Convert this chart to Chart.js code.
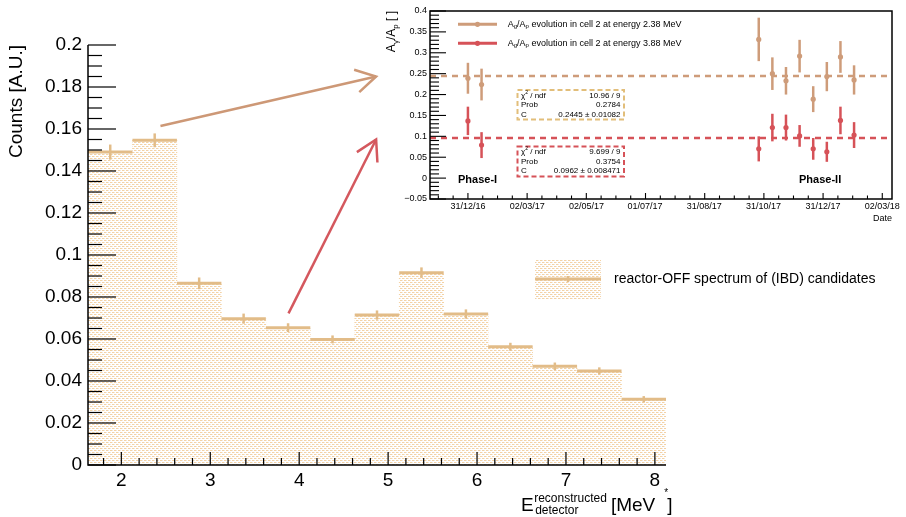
<!DOCTYPE html>
<html>
<head>
<meta charset="utf-8">
<script src="https://cdn.jsdelivr.net/npm/chart.js@4.4.1/dist/chart.umd.min.js"></script>
<style>
  body { margin: 0; background: #fff; }
  #wrap { position: relative; width: 906px; height: 517px; overflow: hidden; }
  #mainChart { position: absolute; left: 0; top: 0; }
  #insetChart { position: absolute; left: 380px; top: 0; }
</style>
</head>
<body>
<div id="wrap">
  <canvas id="mainChart" width="906" height="517"></canvas>
  <canvas id="insetChart" width="526" height="230"></canvas>
</div>
<script>
// ---- main histogram data ----
const binCenters = [1.875, 2.375, 2.875, 3.375, 3.875, 4.375, 4.875, 5.375, 5.875, 6.375, 6.875, 7.375, 7.875];
const counts = [0.149, 0.1546, 0.0865, 0.0697, 0.0654, 0.0598, 0.0714, 0.0916, 0.0719, 0.0563, 0.047, 0.0448, 0.0313];
const countErrors = [0.0036, 0.0033, 0.0028, 0.0024, 0.0021, 0.0019, 0.0022, 0.0025, 0.0022, 0.0019, 0.0018, 0.0017, 0.0015];
const energyTicks = [2, 3, 4, 5, 6, 7, 8];
const spectrumLabel = 'reactor-OFF spectrum of (IBD) candidates';

// ---- inset data (A_g/A_p vs date) ----
const measureDates = ['2016-12-31', '2017-01-14', '2017-10-26', '2017-11-09', '2017-11-23',
  '2017-12-07', '2017-12-21', '2018-01-04', '2018-01-18', '2018-02-01'];
const ratio238 = [0.239, 0.224, 0.332, 0.250, 0.233, 0.292, 0.189, 0.243, 0.290, 0.235];
const err238 = [0.037, 0.038, 0.052, 0.039, 0.033, 0.039, 0.031, 0.035, 0.038, 0.035];
const ratio388 = [0.137, 0.079, 0.070, 0.121, 0.121, 0.101, 0.070, 0.063, 0.138, 0.103];
const err388 = [0.034, 0.031, 0.030, 0.033, 0.031, 0.026, 0.026, 0.024, 0.033, 0.031];
const fit238 = 0.2445;
const fit388 = 0.0962;
const stats238 = [['χ² / ndf', '10.96 / 9'], ['Prob', '0.2784'], ['C', '0.2445 ± 0.01082']];
const stats388 = [['χ² / ndf', '9.699 / 9'], ['Prob', '0.3754'], ['C', '0.0962 ± 0.008471']];
const dateTickDates = ['2016-12-31', '2017-03-02', '2017-05-02', '2017-07-01', '2017-08-31', '2017-10-31', '2017-12-31', '2018-03-02'];
const dateTickLabels = ['31/12/16', '02/03/17', '02/05/17', '01/07/17', '31/08/17', '31/10/17', '31/12/17', '02/03/18'];
const dateRange = ['2016-11-22', '2018-03-12'];

const FONT = "'Liberation Sans', Arial, Helvetica, sans-serif";
const histColor = 'rgb(226,188,136)';
const tanColor = 'rgb(206,156,122)';
const redColor = 'rgb(214,82,88)';
const tanBox = 'rgb(226,190,122)';

Chart.defaults.font.family = FONT;
Chart.defaults.color = '#000';

// days since 31/12/16
const day0 = Date.UTC(2016, 11, 31);
function toDay(s) {
  const p = s.split('-').map(Number);
  return (Date.UTC(p[0], p[1] - 1, p[2]) - day0) / 86400000;
}

function makePattern(ctx) {
  const p = document.createElement('canvas');
  p.width = 4; p.height = 4;
  const c = p.getContext('2d');
  c.fillStyle = '#fff'; c.fillRect(0, 0, 4, 4);
  c.fillStyle = 'rgb(244,210,164)';
  c.fillRect(0, 0, 2, 1);
  c.fillRect(2, 2, 2, 1);
  c.fillStyle = 'rgb(240,232,224)';
  c.fillRect(0, 2, 1, 1);
  c.fillRect(2, 0, 1, 1);
  return ctx.createPattern(p, 'repeat');
}

function richWidth(ctx, parts) {
  let w = 0;
  parts.forEach(p => { ctx.font = (p.bold ? 'bold ' : '') + p.size + 'px ' + FONT; w += ctx.measureText(p.t).width; });
  return w;
}
function drawRich(ctx, parts, x, y) {
  let cx = x;
  parts.forEach(p => {
    ctx.font = (p.bold ? 'bold ' : '') + p.size + 'px ' + FONT;
    ctx.fillText(p.t, cx, y + (p.dy || 0));
    cx += ctx.measureText(p.t).width;
  });
}
function arrow(ctx, x1, y1, x2, y2, color) {
  const ang = Math.atan2(y1 - y2, x1 - x2);
  const L = 23, a = Math.PI / 6;
  ctx.save();
  ctx.strokeStyle = color; ctx.lineWidth = 2.5; ctx.lineCap = 'butt';
  ctx.beginPath(); ctx.moveTo(x1, y1); ctx.lineTo(x2, y2); ctx.stroke();
  ctx.beginPath();
  ctx.moveTo(x2 + L * Math.cos(ang + a), y2 + L * Math.sin(ang + a));
  ctx.lineTo(x2, y2);
  ctx.lineTo(x2 + L * Math.cos(ang - a), y2 + L * Math.sin(ang - a));
  ctx.stroke();
  ctx.restore();
}

// ---------- main chart ----------
const mainCanvas = document.getElementById('mainChart');
const mctx = mainCanvas.getContext('2d');
const dotPattern = makePattern(mctx);
const binWidth = binCenters[1] - binCenters[0];

const mainDecor = {
  id: 'mainDecor',
  afterDatasetsDraw(chart) {
    const { ctx, chartArea: a, scales: { x, y } } = chart;
    ctx.save();
    // bin tops + errors
    ctx.strokeStyle = histColor;
    binCenters.forEach((c, i) => {
      const yy = y.getPixelForValue(counts[i]);
      ctx.lineWidth = 3;
      ctx.beginPath();
      ctx.moveTo(x.getPixelForValue(c - binWidth / 2), yy);
      ctx.lineTo(x.getPixelForValue(c + binWidth / 2), yy);
      ctx.stroke();
      ctx.lineWidth = 2.5;
      ctx.beginPath();
      ctx.moveTo(x.getPixelForValue(c), y.getPixelForValue(counts[i] - countErrors[i]));
      ctx.lineTo(x.getPixelForValue(c), y.getPixelForValue(counts[i] + countErrors[i]));
      ctx.stroke();
    });
    // axes
    ctx.strokeStyle = '#000'; ctx.lineWidth = 1.5;
    ctx.beginPath();
    ctx.moveTo(a.left, a.top); ctx.lineTo(a.left, a.bottom); ctx.lineTo(a.right, a.bottom);
    ctx.stroke();
    ctx.lineWidth = 1.2;
    for (let i = 0; i <= 40; i++) {
      const py = y.getPixelForValue(i * 0.005);
      const len = i % 4 === 0 ? 28 : 14;
      ctx.beginPath(); ctx.moveTo(a.left, py); ctx.lineTo(a.left + len, py); ctx.stroke();
    }
    for (let i = 9; i <= 40; i++) {
      const v = i * 0.2;
      const px = x.getPixelForValue(v);
      if (px > a.right + 0.5) continue;
      const len = i % 5 === 0 ? 13 : 7;
      ctx.beginPath(); ctx.moveTo(px, a.bottom); ctx.lineTo(px, a.bottom - len); ctx.stroke();
    }
    // y title
    ctx.fillStyle = '#000';
    ctx.save();
    ctx.translate(17, a.top);
    ctx.rotate(-Math.PI / 2);
    ctx.font = '19px ' + FONT;
    ctx.textAlign = 'right'; ctx.textBaseline = 'middle';
    ctx.fillText('Counts [A.U.]', 0, 0);
    ctx.restore();
    // x title
    ctx.textAlign = 'left'; ctx.textBaseline = 'alphabetic';
    let tx = 521;
    ctx.font = '19px ' + FONT; ctx.fillText('E', tx, 511);
    tx += ctx.measureText('E').width + 0.5;
    ctx.font = '12px ' + FONT;
    ctx.fillText('reconstructed', tx, 502);
    ctx.fillText('detector', tx + 1, 514);
    tx += ctx.measureText('reconstructed').width + 4;
    ctx.font = '19px ' + FONT; ctx.fillText('[MeV', tx, 511);
    tx += ctx.measureText('[MeV').width;
    ctx.font = '10px ' + FONT; ctx.fillText('*', tx + 9, 496);
    ctx.font = '19px ' + FONT; ctx.fillText(']', tx + 12, 511);
    // legend
    const lx = 535, ly = 259, lw = 66, lh = 40;
    ctx.fillStyle = dotPattern; ctx.fillRect(lx, ly, lw, lh);
    ctx.strokeStyle = histColor; ctx.lineWidth = 3;
    ctx.beginPath(); ctx.moveTo(lx, ly + lh / 2); ctx.lineTo(lx + lw, ly + lh / 2); ctx.stroke();
    ctx.lineWidth = 2.5;
    ctx.beginPath(); ctx.moveTo(lx + lw / 2, ly + lh / 2 - 3); ctx.lineTo(lx + lw / 2, ly + lh / 2 + 3); ctx.stroke();
    ctx.fillStyle = '#000'; ctx.font = '14px ' + FONT; ctx.textBaseline = 'middle';
    ctx.fillText(spectrumLabel, 614, ly + lh / 2);
    // arrows toward inset
    arrow(ctx, x.getPixelForValue(2.44), y.getPixelForValue(0.1614), x.getPixelForValue(4.865), y.getPixelForValue(0.185), 'rgb(205,152,118)');
    arrow(ctx, x.getPixelForValue(3.88), y.getPixelForValue(0.0722), x.getPixelForValue(4.865), y.getPixelForValue(0.155), 'rgb(212,88,94)');
    ctx.restore();
  }
};

new Chart(mainCanvas, {
  type: 'bar',
  data: {
    datasets: [{
      label: spectrumLabel,
      data: binCenters.map((c, i) => ({ x: c, y: counts[i] })),
      backgroundColor: dotPattern,
      borderWidth: 0,
      barPercentage: 1,
      categoryPercentage: 1
    }]
  },
  options: {
    responsive: false,
    animation: false,
    layout: { padding: { left: 0, top: 45, right: 240, bottom: 0 } },
    plugins: { legend: { display: false }, tooltip: { enabled: false } },
    scales: {
      x: {
        type: 'linear', min: 1.625, max: 8.125, offset: false,
        grid: { display: false, drawTicks: false }, border: { display: false },
        afterBuildTicks: s => { s.ticks = energyTicks.map(v => ({ value: v })); },
        afterFit: s => { s.height = 52; },
        ticks: { font: { size: 19 }, padding: 4, maxRotation: 0, autoSkip: false }
      },
      y: {
        min: 0, max: 0.2,
        grid: { display: false, drawTicks: false }, border: { display: false },
        afterFit: s => { s.width = 88; },
        ticks: { stepSize: 0.02, font: { size: 19 }, padding: 6, callback: v => String(+v.toFixed(2)) }
      }
    }
  },
  plugins: [mainDecor]
});

// ---------- inset chart ----------
const insetCanvas = document.getElementById('insetChart');
const days = measureDates.map(toDay);
const tickDays = dateTickDates.map(toDay);
const xMin = toDay(dateRange[0]), xMax = toDay(dateRange[1]);

function drawStatBox(ctx, color, rows, x, y, w, h) {
  ctx.save();
  ctx.fillStyle = '#fff'; ctx.fillRect(x, y, w, h);
  ctx.strokeStyle = color; ctx.lineWidth = 2; ctx.setLineDash([5, 3]);
  ctx.strokeRect(x, y, w, h);
  ctx.setLineDash([]);
  ctx.fillStyle = '#000'; ctx.font = '8px ' + FONT; ctx.textBaseline = 'middle';
  rows.forEach((r, i) => {
    const ry = y + 5.5 + i * 9.5;
    ctx.textAlign = 'left';
    if (r[0].startsWith('χ')) {
      drawRich(ctx, [{ t: 'χ', size: 8 }, { t: '2', size: 5, dy: -3 }, { t: ' / ndf', size: 8 }], x + 3.5, ry);
    } else {
      ctx.fillText(r[0], x + 3.5, ry);
    }
    ctx.textAlign = 'right';
    ctx.font = '8px ' + FONT;
    ctx.fillText(r[1], x + w - 3.5, ry);
  });
  ctx.restore();
}

const insetDecor = {
  id: 'insetDecor',
  beforeDatasetsDraw(chart) {
    const { ctx, scales: { x, y } } = chart;
    ctx.save();
    ctx.lineWidth = 2.5;
    [[ratio238, err238, tanColor], [ratio388, err388, redColor]].forEach(([vals, errs, col]) => {
      ctx.strokeStyle = col;
      days.forEach((d, i) => {
        const px = x.getPixelForValue(d);
        ctx.beginPath();
        ctx.moveTo(px, y.getPixelForValue(vals[i] - errs[i]));
        ctx.lineTo(px, y.getPixelForValue(vals[i] + errs[i]));
        ctx.stroke();
      });
    });
    ctx.restore();
  },
  afterDatasetsDraw(chart) {
    const { ctx, chartArea: a, scales: { x, y } } = chart;
    ctx.save();
    ctx.strokeStyle = '#000'; ctx.lineWidth = 1.5;
    ctx.strokeRect(a.left, a.top, a.right - a.left, a.bottom - a.top);
    ctx.lineWidth = 1.1;
    for (let i = -5; i <= 40; i++) {
      const py = y.getPixelForValue(i * 0.01);
      const len = i % 5 === 0 ? 16 : 9;
      ctx.beginPath(); ctx.moveTo(a.left, py); ctx.lineTo(a.left + len, py); ctx.stroke();
    }
    const step = (tickDays[tickDays.length - 1] - tickDays[0]) / (tickDays.length - 1) / 4;
    for (let i = -3; i <= 30; i++) {
      const d = tickDays[0] + i * step;
      if (d < xMin || d > xMax) continue;
      const px = x.getPixelForValue(d);
      const len = i % 4 === 0 ? 6 : 3.5;
      ctx.beginPath(); ctx.moveTo(px, a.bottom); ctx.lineTo(px, a.bottom - len); ctx.stroke();
    }
    // legend
    [[tanColor, '2.38', 24.3], [redColor, '3.88', 43.3]].forEach(([col, en, ly]) => {
      ctx.strokeStyle = col; ctx.lineWidth = 3;
      ctx.beginPath(); ctx.moveTo(78, ly); ctx.lineTo(117, ly); ctx.stroke();
      ctx.fillStyle = col; ctx.beginPath(); ctx.arc(97.5, ly, 2.6, 0, Math.PI * 2); ctx.fill();
      ctx.fillStyle = '#000'; ctx.textBaseline = 'middle'; ctx.textAlign = 'left';
      drawRich(ctx, [{ t: 'A', size: 9 }, { t: 'g', size: 6, dy: 2.5 }, { t: '/A', size: 9 }, { t: 'p', size: 6, dy: 2.5 },
        { t: ' evolution in cell 2 at energy ' + en + ' MeV', size: 9 }], 127.7, ly);
    });
    // stat boxes
    drawStatBox(ctx, tanBox, stats238, 137.5, 90, 106.5, 29.5);
    drawStatBox(ctx, redColor, stats388, 137.5, 146.5, 106.5, 30);
    // phase labels
    ctx.fillStyle = '#000'; ctx.textBaseline = 'middle'; ctx.textAlign = 'left';
    ctx.font = 'bold 11px ' + FONT;
    ctx.fillText('Phase-I', 78, 180);
    ctx.fillText('Phase-II', 419, 180);
    // axis titles
    ctx.font = '9px ' + FONT; ctx.textAlign = 'right';
    ctx.fillText('Date', a.right, 219);
    const yTitle = [{ t: 'A', size: 12 }, { t: 'γ', size: 8, dy: 3.5 }, { t: '/A', size: 12 }, { t: 'p', size: 8, dy: 3.5 }, { t: ' [ ]', size: 12 }];
    ctx.save();
    ctx.translate(12, a.top);
    ctx.rotate(-Math.PI / 2);
    ctx.textAlign = 'left';
    drawRich(ctx, yTitle, -richWidth(ctx, yTitle), 0);
    ctx.restore();
    ctx.restore();
  }
};

new Chart(insetCanvas, {
  type: 'scatter',
  data: {
    datasets: [
      { type: 'line', data: [{ x: xMin, y: fit238 }, { x: xMax, y: fit238 }], borderColor: tanColor, borderWidth: 2.5, borderDash: [6, 5], pointRadius: 0 },
      { type: 'line', data: [{ x: xMin, y: fit388 }, { x: xMax, y: fit388 }], borderColor: redColor, borderWidth: 2.5, borderDash: [6, 5], pointRadius: 0 },
      { label: 'Ag/Ap evolution in cell 2 at energy 2.38 MeV', data: days.map((d, i) => ({ x: d, y: ratio238[i] })), pointRadius: 2.6, backgroundColor: tanColor, borderWidth: 0 },
      { label: 'Ag/Ap evolution in cell 2 at energy 3.88 MeV', data: days.map((d, i) => ({ x: d, y: ratio388[i] })), pointRadius: 2.6, backgroundColor: redColor, borderWidth: 0 }
    ]
  },
  options: {
    responsive: false,
    animation: false,
    layout: { padding: { left: 0, top: 11, right: 14, bottom: 0 } },
    plugins: { legend: { display: false }, tooltip: { enabled: false } },
    scales: {
      x: {
        type: 'linear', min: xMin, max: xMax,
        grid: { display: false, drawTicks: false }, border: { display: false },
        afterBuildTicks: s => { s.ticks = tickDays.map(v => ({ value: v })); },
        afterFit: s => { s.height = 31; },
        ticks: { font: { size: 9 }, padding: 2, maxRotation: 0, autoSkip: false, callback: (v, i) => dateTickLabels[i] }
      },
      y: {
        min: -0.05, max: 0.4,
        grid: { display: false, drawTicks: false }, border: { display: false },
        afterFit: s => { s.width = 50; },
        ticks: { stepSize: 0.05, font: { size: 9 }, padding: 3, callback: v => v < 0 ? '−' + String(+(-v).toFixed(2)) : String(+v.toFixed(2)) }
      }
    }
  },
  plugins: [insetDecor]
});
</script>
</body>
</html>
